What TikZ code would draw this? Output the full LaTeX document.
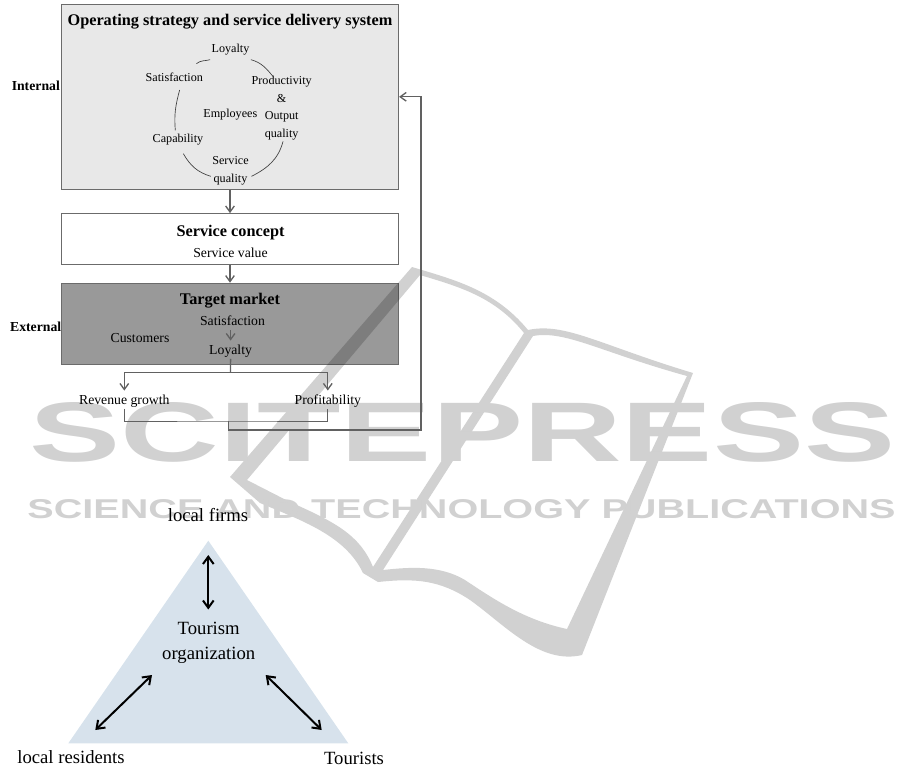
\documentclass[tikz,border=0pt]{standalone}
\usepackage{graphicx}
\usepackage{fontspec}
\setmainfont{Liberation Serif}
\setsansfont{Liberation Sans}
\usetikzlibrary{arrows.meta}

\definecolor{boxline}{gray}{0.42}
\definecolor{flowline}{gray}{0.38}
\definecolor{lightbox}{gray}{0.91}
\definecolor{darkbox}{gray}{0.60}
\definecolor{markgray}{gray}{0.82}
\definecolor{triblue}{HTML}{D7E2EC}

\tikzset{every picture/.style={line width=0.75pt}}
\tikzset{
  mainbox/.style={draw=boxline,line width=0.9pt,minimum width=252.75pt,inner sep=0pt},
  small/.style={inner sep=0.75pt,yshift=-1.5pt,align=center,font=\fontsize{9.1}{13.2}\selectfont},
  medium/.style={inner sep=0.75pt,yshift=-1.5pt,font=\fontsize{10.3}{12}\selectfont},
  heading/.style={inner sep=0.75pt,yshift=-1.5pt,font=\fontsize{12.2}{14}\selectfont\bfseries},
  sidelabel/.style={inner sep=0.75pt,yshift=-1.5pt,font=\fontsize{10.3}{12}\selectfont\bfseries},
  large/.style={inner sep=0.75pt,align=center,font=\fontsize{14}{19}\selectfont},
  loopline/.style={draw=black!75,line width=0.5pt},
  flow/.style={draw=flowline,line width=1pt},
  flowtip/.style={flow,-{Straight Barb[length=4.5pt,width=6.5pt,line width=1pt]}},
  twoway/.style={black,line width=1.5pt,{Straight Barb[length=5.5pt,width=8pt,line width=1.5pt]}-{Straight Barb[length=5.5pt,width=8pt,line width=1.5pt]}}
}

\begin{document}
\begin{tikzpicture}[x=0.75pt,y=0.75pt,yscale=-1,xscale=1]
\useasboundingbox (0,0) rectangle (913,782);

% Boxes
\node [mainbox,fill=lightbox,minimum height=138.75pt] (opsys) at (230,96.8) {};
\node [mainbox,fill=white,minimum height=38.25pt] (concept) at (230,239.2) {};
\node [mainbox,fill=darkbox,minimum height=60.75pt] (target) at (230,323.8) {};

% Publisher mark
\fill [black,opacity=0.18,even odd rule]
  (230,477) -- (412,267) .. controls (455,280) and (495,290) .. (528,330)
  .. controls (565,322) and (600,345) .. (693,373) -- (582,655)
  .. controls (540,665) and (505,625) .. (470,600) .. controls (440,580) and (415,578) .. (378,582)
  -- (363,573) .. controls (345,535) and (300,520) .. (260,503) -- cycle
  (247,480) -- (420,275) .. controls (460,287) and (495,297) .. (524,333) -- (373,567)
  .. controls (360,535) and (335,522) .. (290,502) -- cycle
  (533,336) .. controls (565,330) and (600,352) .. (687,376) -- (567,629)
  .. controls (525,620) and (495,600) .. (465,580) .. controls (440,565) and (410,567) .. (383,570) -- cycle;
\node [inner sep=0pt,text=markgray] (markbig) at (462.5,432.5)
  {\resizebox{648.75pt}{44.25pt}{\sffamily\bfseries SCITEPRESS}};
\node [inner sep=0pt,text=markgray] (marksmall) at (461.5,509.5)
  {\resizebox{651pt}{14.25pt}{\sffamily\bfseries SCIENCE AND TECHNOLOGY PUBLICATIONS}};

% Triangle
\fill [triblue] (208.3,540.7) -- (348.3,743.3) -- (68.3,743.3) -- cycle;

% Text Node
\node [heading] (optitle) at (230,20) {Operating strategy and service delivery system};
\node [small] (loyal) at (230.5,48) {Loyalty};
\node [small] (satis) at (174.3,75.5) {Satisfaction};
\node [small] (prod) at (281.7,106) {Productivity\\\&\\Output\\quality};
\node [small] (employ) at (230.3,112.5) {Employees};
\node [small] (capab) at (178,138) {Capability};
\node [small] (serv) at (230.5,169) {Service\\quality};
\node [sidelabel] (internal) at (35.8,83.3) {Internal};
\node [heading] (contitle) at (230.5,230.7) {Service concept};
\node [medium] (convalue) at (230.5,251) {Service value};
\node [heading] (tartitle) at (230,299) {Target market};
\node [medium] (tarsat) at (232.5,319) {Satisfaction};
\node [medium] (tarloyal) at (230.6,349) {Loyalty};
\node [medium] (custom) at (140,335.7) {Customers};
\node [sidelabel] (external) at (35.7,325) {External};
\node [medium] (revenue) at (124.3,399) {Revenue growth};
\node [medium] (profit) at (327.8,399) {Profitability};
\node [large] (firms) at (208,515) {local firms};
\node [large] (orga) at (208.7,643) {Tourism\\organization};
\node [large] (residents) at (71,756.7) {local residents};
\node [large] (tourists) at (354,758) {Tourists};

% Loop of the employees
\draw [loopline] (satis.north east) ++(-6pt,-6pt) to [out=-40,in=165] ([yshift=2pt]loyal.south west);
\draw [loopline] ([yshift=2pt]loyal.south east) to [out=15,in=-130] ([xshift=-6pt,yshift=2pt]prod.north);
\draw [loopline] ([xshift=1pt]prod.south) to [out=105,in=-27] ([xshift=1pt,yshift=4pt]serv.east);
\draw [loopline] ([yshift=4pt]serv.west) to [out=197,in=60] ([xshift=4pt,yshift=5pt]capab.south);
\draw [loopline] ([xshift=-2pt,yshift=-2pt]capab.north) to [out=-95,in=105] ([xshift=4pt,yshift=5pt]satis.south);

% Connectors
\coordinate (split) at (230.5,372.7);
\coordinate (merge) at (228.5,421);
\coordinate (back) at (421,430);
\draw [flowtip] (opsys) -- (concept);
\draw [flowtip] (concept) -- (target);
\draw [flowtip,line width=0.75pt,shorten <=2pt,shorten >=2pt] (tarloyal.north |- tarsat.south) -- (tarloyal.north);
\draw [flow] (tarloyal.south) -- (split);
\draw [flowtip,shorten >=2pt] (split) -| (revenue.north);
\draw [flowtip,shorten >=2pt] (split) -| (profit.north);
\draw [flow,line width=0.75pt] (revenue.south) |- (merge) -| (profit.south);
\draw [flowtip] (merge) |- (back) |- (opsys.east);

% Double arrows
\coordinate (toptip) at (208.3,555);
\coordinate (topend) at (208.3,609.5);
\coordinate (lefttip) at (95.3,730);
\coordinate (leftend) at (152,675);
\coordinate (righttip) at (321.7,730);
\coordinate (rightend) at (265.7,675);
\draw [twoway] (toptip) -- (topend);
\draw [twoway] (lefttip) -- (leftend);
\draw [twoway] (righttip) -- (rightend);
\end{tikzpicture}
\end{document}
